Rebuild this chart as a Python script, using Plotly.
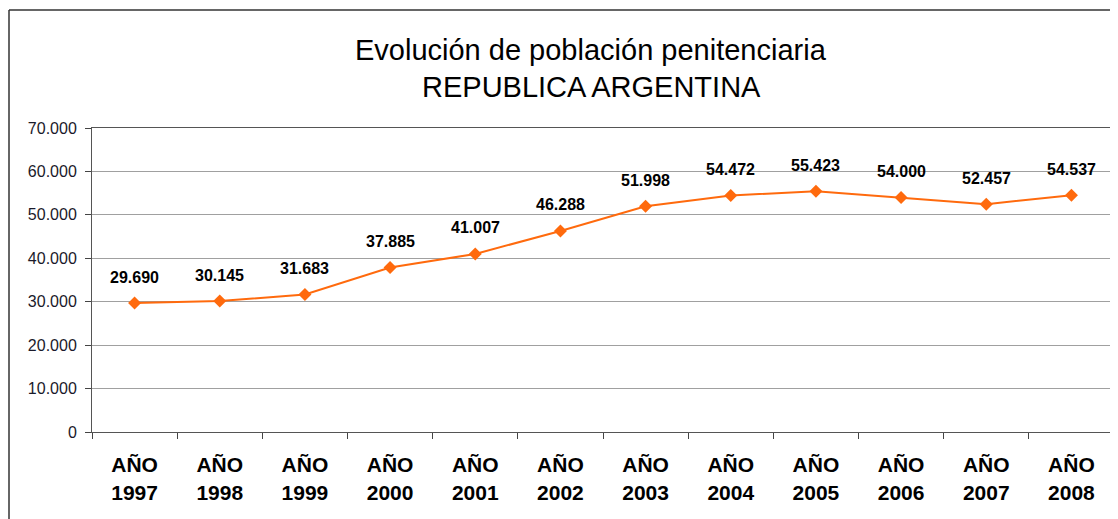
import plotly.graph_objects as go

years = ["1997", "1998", "1999", "2000", "2001", "2002", "2003", "2004", "2005", "2006", "2007", "2008"]
categories = ["<b>AÑO<br>" + y + "</b>" for y in years]
poblacion = [29690, 30145, 31683, 37885, 41007, 46288, 51998, 54472, 55423, 54000, 52457, 54537]
y_ticks = [0, 10000, 20000, 30000, 40000, 50000, 60000, 70000]
y_labels = ["0", "10.000", "20.000", "30.000", "40.000", "50.000", "60.000", "70.000"]
title_lines = ["Evolución de población penitenciaria", "REPUBLICA ARGENTINA"]

def fmt(v):
    return f"{v:,}".replace(",", ".")

OFF = 8  # page body margin
W, H = 1110, 511
L, R, T, B = 92 - OFF, 4, 128 - OFF, 87
pw, ph = W - L - R, H - T - B

def px(x):
    return (x - OFF - L) / pw

def py(y):
    return (H - B - (y - OFF)) / ph

FONT = "Liberation Sans, Arial"

fig = go.Figure()
fig.add_trace(go.Scatter(
    x=categories, y=poblacion, mode="lines+markers",
    line=dict(color="#FF6A0D", width=2),
    marker=dict(symbol="diamond", size=10, color="#FF6A0D"),
    hoverinfo="skip", showlegend=False,
))

for c, v in zip(categories, poblacion):
    fig.add_annotation(x=c, y=v, text="<b>" + fmt(v) + "</b>", showarrow=False,
                       yshift=26, font=dict(family=FONT, size=16, color="black"))

for line, ypix in zip(title_lines, [50, 87]):
    fig.add_annotation(xref="paper", yref="paper", x=px(591), y=py(ypix), text=line,
                       showarrow=False, xanchor="center", yanchor="middle",
                       font=dict(family=FONT, size=29, color="black"))

fig.update_layout(
    width=W, height=H,
    margin=dict(l=L, r=R, t=T, b=B),
    paper_bgcolor="white", plot_bgcolor="white",
    xaxis=dict(
        type="category", tickson="boundaries", ticks="outside", ticklen=6,
        tickcolor="#444", showline=True, linecolor="#555", linewidth=1, mirror=True,
        showgrid=False, tickfont=dict(family=FONT, size=21, color="black"),
        ticklabelstandoff=14,
        range=[-0.5, len(categories) - 0.5], automargin=False,
    ),
    yaxis=dict(
        range=[0, 70000], tickvals=y_ticks, ticktext=y_labels,
        ticks="outside", ticklen=6, tickcolor="#444",
        showline=True, linecolor="#555", linewidth=1, mirror=True,
        showgrid=True, gridcolor="#a0a0a0", gridwidth=1, zeroline=False,
        tickfont=dict(family=FONT, size=16, color="#1a1a2a"), automargin=False,
        ticklabelstandoff=5,
    ),
    font=dict(family=FONT),
    shapes=[
        dict(type="line", xref="paper", yref="paper", x0=px(9), x1=px(1130), y0=py(10), y1=py(10),
             line=dict(color="#333", width=1.5)),
        dict(type="line", xref="paper", yref="paper", x0=px(9), x1=px(9), y0=py(10), y1=py(530),
             line=dict(color="#333", width=1.5)),
    ],
)

fig.write_html("out.html")
